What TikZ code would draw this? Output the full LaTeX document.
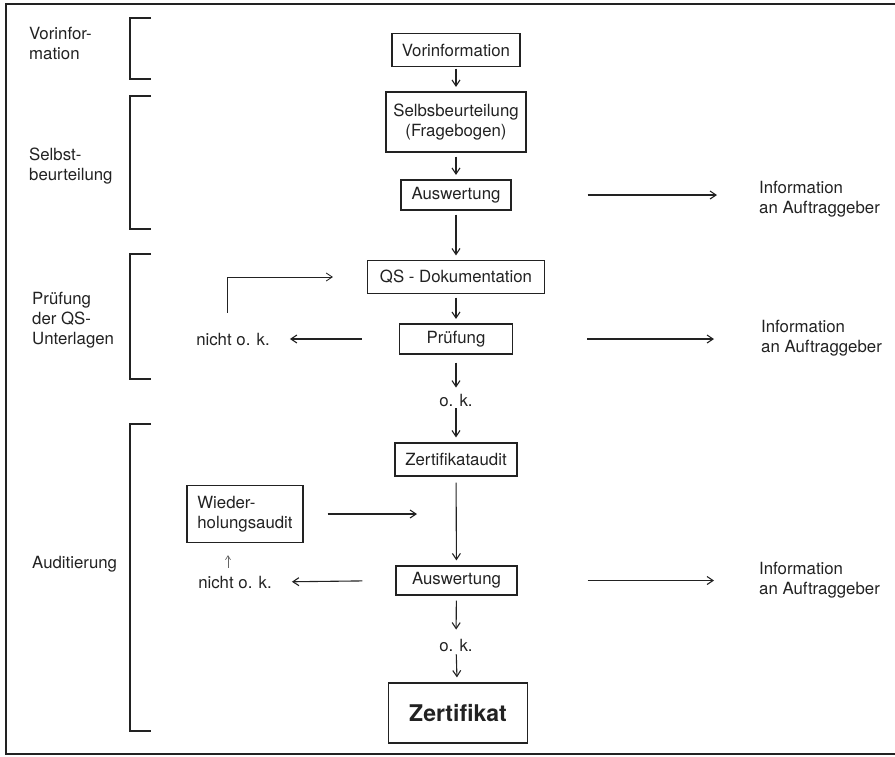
\documentclass[tikz,border=0pt]{standalone}
\usepackage{fontspec}
\setmainfont{TeX Gyre Heros}
\usepackage{xcolor}
\usepackage{tikz}
\usetikzlibrary{positioning, arrows.meta}
\definecolor{inkblack}{HTML}{222222}
\definecolor{pencilgrey}{HTML}{666666}

\begin{document}
\begin{tikzpicture}[
  x=1pt, y=-1pt,
  every node/.style={font=\fontsize{16.8}{20}\selectfont, text=inkblack},
  stepbox/.style={
    draw=inkblack,
    line width=1.2pt,
    align=center,
    inner sep=0pt,
  },
  sidelabel/.style={
    anchor=west,
    align=left,
    inner sep=0pt,
  },
  infolabel/.style={
    anchor=west,
    align=left,
    inner sep=0pt,
  },
  flow/.style={
    -{Straight Barb[length=6pt, width=8pt]},
    line width=1.1pt,
    draw=inkblack,
    shorten <=4pt,
    shorten >=4.5pt,
  },
  backflow/.style={
    -{Straight Barb[length=4pt, width=5pt]},
    line width=0.7pt,
    draw=pencilgrey,
  },
  bracket/.style={
    line width=1.1pt,
    draw=inkblack,
  },
]
  \useasboundingbox (0,0) rectangle (895,756);
  \draw[line width=1.2pt, draw=inkblack] (895,4) -- (6,4) -- (6,754) -- (895,754);

  % phases on the left
  \node[sidelabel] (lvorinfo) at (29,43) {Vorinfor-\\mation};
  \node[sidelabel] (lselbst) at (29,166) {Selbst-\\beurteilung};
  \node[sidelabel] (lpruef) at (32,320) {Prüfung\\der QS-\\Unterlagen};
  \node[sidelabel] (laudit) at (32,564) {Auditierung};

  \draw[bracket] (151,18) -| (130,79) -- (151,79);
  \draw[bracket] (151,96) -| (130,229) -- (151,229);
  \draw[bracket] (151,254) -| (130,379) -- (151,379);
  \draw[bracket] (151,424) -| (130,731) -- (151,731);

  % main column
  \node[stepbox, minimum width=128pt, minimum height=33pt] (vorinfo) at (456,50) {Vorinformation};
  \node[stepbox, minimum width=140pt, minimum height=60pt] (selbst) at (456,122) {Selbsbeurteilung\\(Fragebogen)};
  \node[stepbox, minimum width=110pt, minimum height=30pt] (ausw1) at (456,195) {Auswertung};
  \node[stepbox, minimum width=177pt, minimum height=33pt] (qs) at (456,277) {QS - Dokumentation};
  \node[stepbox, minimum width=113pt, minimum height=30pt] (pruef) at (456,339) {Prüfung};
  \node[inner sep=0pt] (ok1) at (456,400) {o. k.};
  \node[stepbox, minimum width=122pt, minimum height=33pt] (zaudit) at (456,459.5) {Zertifikataudit};
  \node[stepbox, minimum width=121pt, minimum height=29pt] (ausw2) at (456.5,580.5) {Auswertung};
  \node[inner sep=0pt] (ok2) at (456,645) {o. k.};
  \node[stepbox, minimum width=139pt, minimum height=60pt,
        font=\fontsize{23}{28}\selectfont\bfseries] (zert) at (458,713) {Zertifikat};

  % side branches
  \node[inner sep=0pt] (nok1) at (233,339) {nicht o. k.};
  \node[stepbox, align=left, minimum width=116pt, minimum height=57pt] (wdh) at (245,514) {Wieder-\\holungsaudit};
  \node[inner sep=0pt] (nok2) at (235,582) {nicht o. k.};

  \node[infolabel] (info1) at (759,199) {Information\\an Auftraggeber};
  \node[infolabel] (info2) at (761,338) {Information\\an Auftraggeber};
  \node[infolabel] (info3) at (759,580) {Information\\an Auftraggeber};

  \draw[flow, shorten <=1.5pt] (vorinfo) -- (selbst);
  \draw[flow] (selbst) -- (ausw1);
  \draw[flow] (ausw1) -- (qs);
  \draw[flow, shorten <=3.5pt] (qs) -- (pruef);
  \draw[flow, shorten <=8pt, shorten >=6pt] (pruef) -- (ok1);
  \draw[flow, shorten <=2pt, shorten >=5pt] (ok1) -- (zaudit);
  \draw[flow, shorten <=6pt, shorten >=5pt] (zaudit) -- (ausw2);
  \draw[flow, shorten <=5pt, shorten >=9pt] (ausw2) -- (ok2);
  \draw[flow, shorten <=3pt, shorten >=5pt] (ok2) -- (zert);

  \draw[flow, shorten <=76pt, shorten >=42pt] (ausw1.east) -- (ausw1.east -| info1.west);
  \draw[flow, shorten <=74pt, shorten >=47pt] (pruef.east) -- (pruef.east -| info2.west);
  \draw[flow, shorten <=70pt, shorten >=45pt] (ausw2.east) -- (ausw2.east -| info3.west);

  \draw[flow, shorten <=37pt, shorten >=20pt] (pruef.west) -- (nok1.east);
  \draw[flow, line width=0.8pt, shorten <=20pt, shorten >=34pt] ([xshift=-6pt]nok1.north) |- (qs.west);
  \draw[flow, shorten <=33pt, shorten >=20pt] (ausw2.west) -- (nok2.east);
  \draw[backflow, shorten <=8pt, shorten >=12pt] ([xshift=-7pt]nok2.north) -- ([xshift=-7pt]nok2.north |- wdh.south);
  \draw[flow, shorten <=24pt, shorten >=39pt] (wdh.east) -- (wdh.east -| zaudit.south);
\end{tikzpicture}
\end{document}
